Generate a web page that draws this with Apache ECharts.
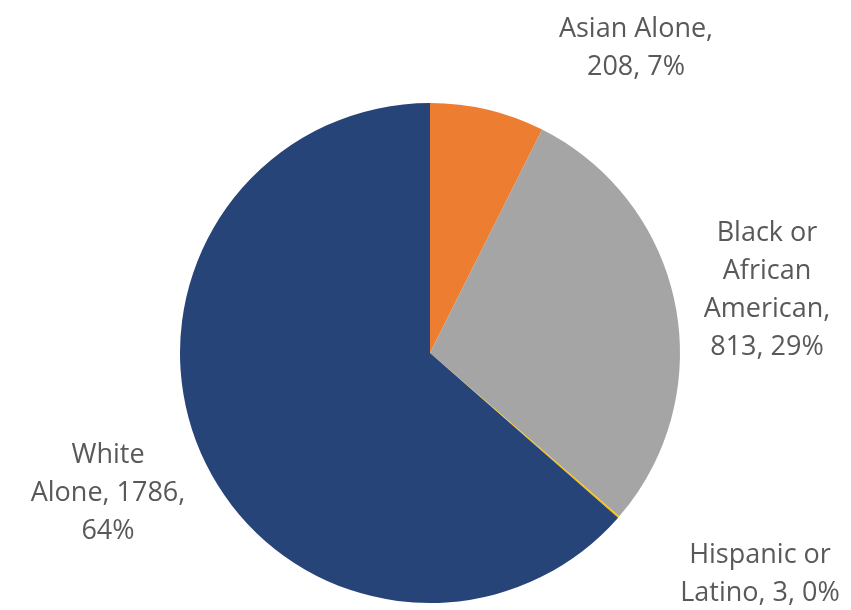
<!DOCTYPE html>
<html>
<head>
<meta charset="utf-8">
<script src="https://cdn.jsdelivr.net/npm/echarts@6/dist/echarts.min.js"></script>
<style>
  html, body { margin: 0; padding: 0; background: #ffffff; }
  #chart { width: 851px; height: 610px; }
</style>
</head>
<body>
<div id="chart"></div>
<script>
// Population by race
const categories = ['Asian Alone', 'Black or African American', 'Hispanic or Latino', 'White Alone'];
const values = [208, 813, 3, 1786];
const labelTexts = [
  'Asian Alone,\n208, 7%',
  'Black or\nAfrican\nAmerican,\n813, 29%',
  'Hispanic or\nLatino, 3, 0%',
  'White\nAlone, 1786,\n64%'
];
const colors = ['#ED7D31', '#A5A5A5', '#FFC000', '#264478'];

// Where each label block is centred
const labelSpots = [[636, 48], [767, 290], [760, 574], [108, 493]];

const chart = echarts.init(document.getElementById('chart'), null, { renderer: 'canvas' });

chart.setOption({
  animation: false,
  backgroundColor: '#ffffff',
  series: [{
    type: 'pie',
    center: [430, 353],
    radius: 250,
    startAngle: 90,
    clockwise: true,
    data: categories.map((name, i) => ({
      name: name,
      value: values[i],
      itemStyle: { color: colors[i] },
      label: { formatter: labelTexts[i] }
    })),
    itemStyle: { borderColor: '#ffffff', borderWidth: 0 },
    label: {
      show: true,
      position: 'outside',
      color: '#595959',
      fontFamily: 'Open Sans',
      fontSize: 27,
      lineHeight: 38,
      align: 'center',
      overflow: 'none'
    },
    labelLine: { show: false },
    labelLayout: function (params) {
      const p = labelSpots[params.dataIndex];
      return { x: p[0], y: p[1], align: 'center', verticalAlign: 'middle' };
    }
  }]
});
</script>
</body>
</html>
